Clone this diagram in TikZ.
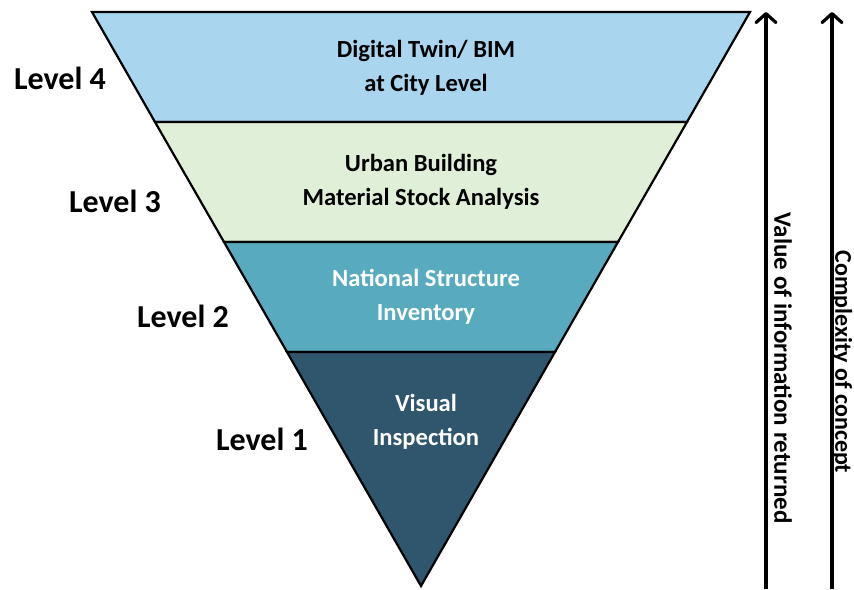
\documentclass[tikz,border=0pt]{standalone}
\usepackage{fontspec}
\setmainfont{Carlito}
\usetikzlibrary{arrows.meta,calc}
\definecolor{bandA}{HTML}{A9D5EF}
\definecolor{bandB}{HTML}{E0F0D8}
\definecolor{bandC}{HTML}{58ABBE}
\definecolor{bandD}{HTML}{2F566D}
\begin{document}
\begin{tikzpicture}[x=1pt,y=-1pt,
  band/.style={draw=black,line width=2.2pt,line join=miter},
  levellabel/.style={font=\bfseries\fontsize{32}{38}\selectfont,anchor=center,inner sep=0pt},
  bandtext/.style={font=\bfseries\fontsize{24.6}{34}\selectfont,align=center,inner sep=0pt},
  axisarrow/.style={line width=3.2pt,-{Straight Barb[length=9pt,width=20pt,line cap=round,line join=round]}},
  axislabel/.style={font=\bfseries\fontsize{24}{28}\selectfont,rotate=-90,inner sep=0pt}]
\useasboundingbox (0,0) rectangle (854,589);
% corners of the inverted pyramid
\coordinate (tl) at (92,12);
\coordinate (tr) at (750,12);
\coordinate (l1) at (155,122);
\coordinate (r1) at (687,122);
\coordinate (l2) at (224,242);
\coordinate (r2) at (618,242);
\coordinate (l3) at (287,352);
\coordinate (r3) at (555,352);
\coordinate (tip) at (421,586);
% bands
\draw[band,fill=bandA] (tl) -- (tr) -- (r1) -- (l1) -- cycle;
\draw[band,fill=bandB] (l1) -- (r1) -- (r2) -- (l2) -- cycle;
\draw[band,fill=bandC] (l2) -- (r2) -- (r3) -- (l3) -- cycle;
\draw[band,fill=bandD] (l3) -- (r3) -- (tip) -- cycle;
% band texts
\node[bandtext] (t4) at (426,68) {Digital Twin/ BIM\\at City Level};
\node[bandtext] (t3) at (421,182) {Urban Building\\Material Stock Analysis};
\node[bandtext,text=white] (t2) at (426,297) {National Structure\\Inventory};
\node[bandtext,text=white] (t1) at (426,422) {Visual\\Inspection};
% level labels
\node[levellabel] (lv4) at (60,78) {Level 4};
\node[levellabel] (lv3) at (115,201) {Level 3};
\node[levellabel] (lv2) at (183,316) {Level 2};
\node[levellabel] (lv1) at (262,439) {Level 1};
% axes
\coordinate (a1s) at (766,589);
\coordinate (a1e) at (766,12);
\coordinate (a2s) at (832,589);
\coordinate (a2e) at (832,12);
\draw[axisarrow] (a1s) -- (a1e);
\draw[axisarrow] (a2s) -- (a2e);
\node[axislabel,font=\bfseries\fontsize{25}{28}\selectfont] (ax1) at (783,368) {Value of information returned};
\node[axislabel] (ax2) at (842,362) {Complexity of concept};
\end{tikzpicture}
\end{document}
